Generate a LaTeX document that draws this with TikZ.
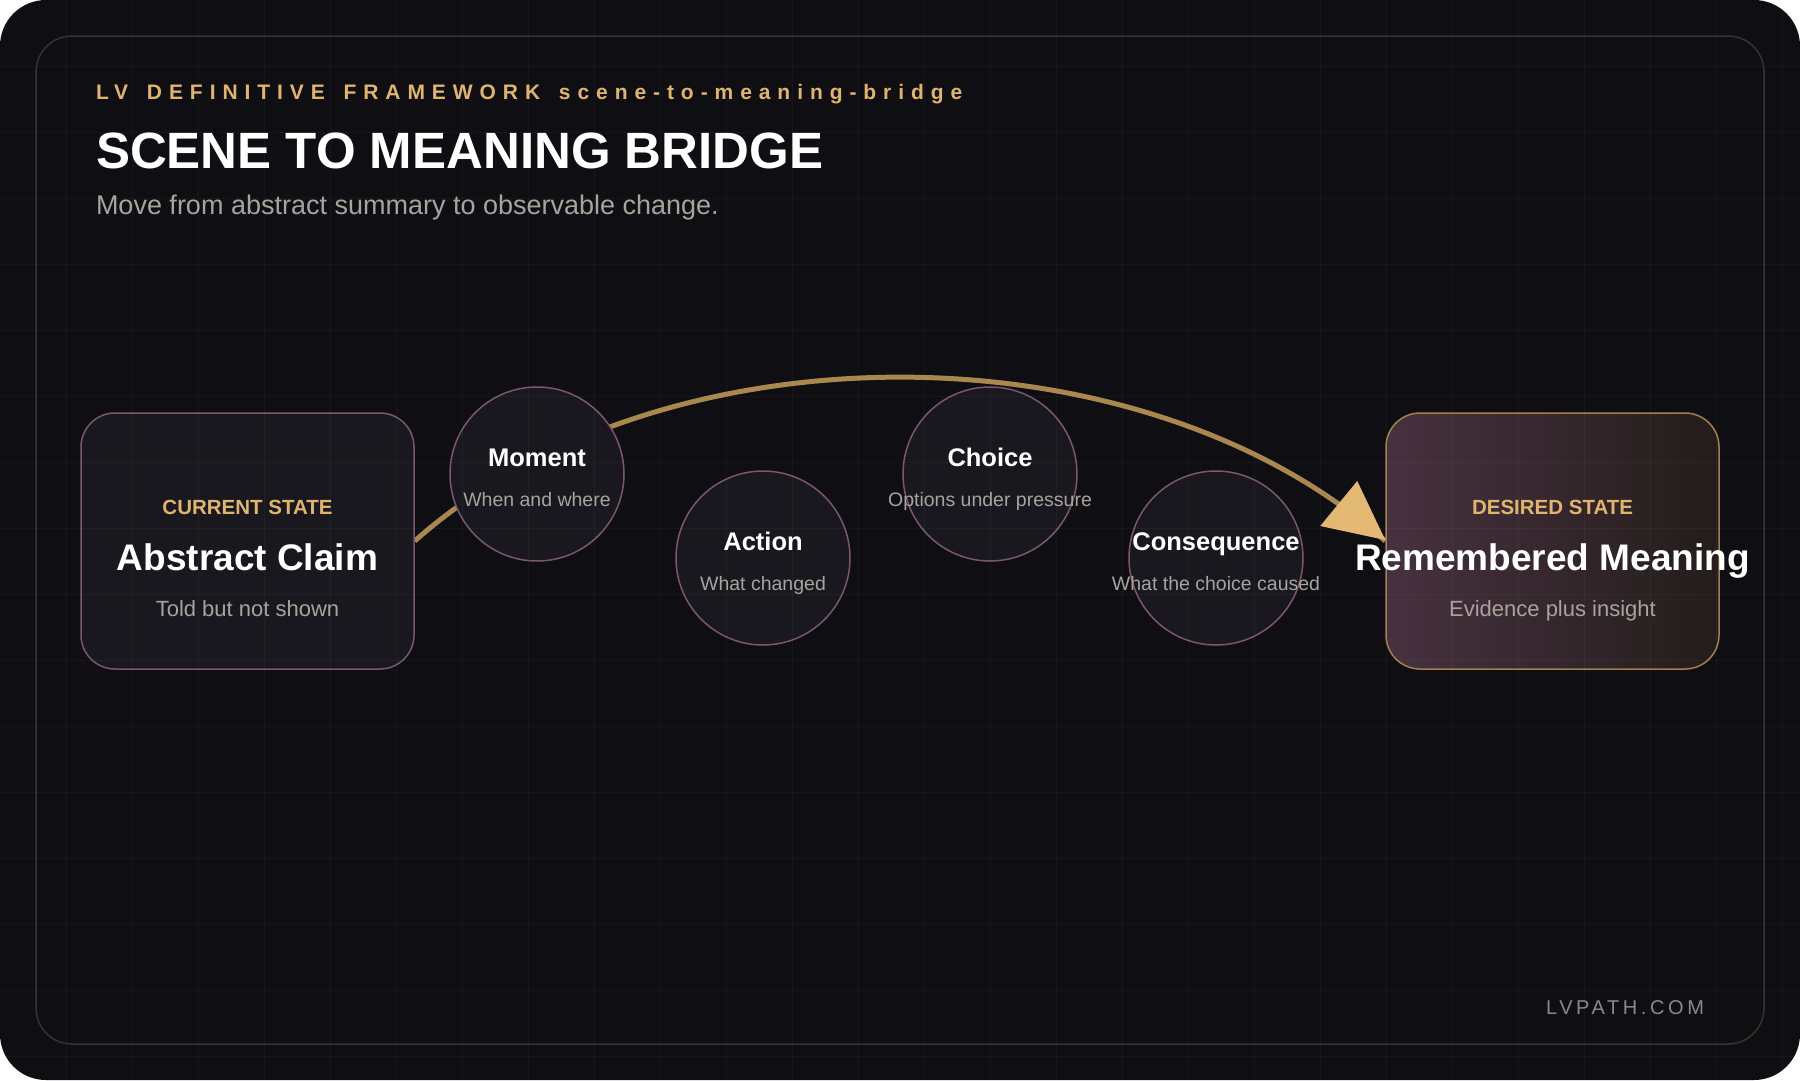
\documentclass[tikz,border=0pt]{standalone}
\usepackage{fontspec}
\setmainfont{Liberation Sans}
\usetikzlibrary{calc}
\definecolor{bgc}{HTML}{0F0F13}
\definecolor{framec}{HTML}{3A3229}
\definecolor{cardc}{HTML}{19181E}
\definecolor{mauvec}{HTML}{7A5670}
\definecolor{goldtext}{HTML}{E0B46E}
\definecolor{goldstroke}{HTML}{A27F4F}
\definecolor{bridgec}{HTML}{A9874F}
\definecolor{arrowc}{HTML}{E3B873}
\definecolor{grayt}{HTML}{A8A39D}
\definecolor{footc}{HTML}{8C8883}
\definecolor{rbleft}{HTML}{47313F}
\definecolor{rbright}{HTML}{231D1B}
\pgfdeclarelayer{bglayer}
\pgfdeclarelayer{midlayer}
\pgfdeclarelayer{toplayer}
\pgfsetlayers{bglayer,midlayer,main,toplayer}
\tikzset{
  txt/.style={inner sep=0pt, outer sep=0pt, anchor=base},
  cardbox/.style={rectangle, rounded corners=34pt, minimum width=333pt, minimum height=256pt, line width=1.5pt, inner sep=0pt},
  stepcircle/.style={circle, minimum size=174pt, inner sep=0pt, draw=mauvec, line width=1.5pt, fill=cardc},
  ctitle/.style={txt, text=white, font=\bfseries\fontsize{25.5pt}{28pt}\selectfont},
  csub/.style={txt, text=grayt, font=\fontsize{19.5pt}{22pt}\selectfont},
  klabel/.style={txt, text=goldtext, font=\bfseries\fontsize{20.5pt}{23pt}\selectfont},
  kmain/.style={txt, text=white, font=\bfseries\fontsize{37pt}{40pt}\selectfont},
  ksub/.style={txt, text=grayt, font=\fontsize{22pt}{25pt}\selectfont},
}
\begin{document}
\begin{tikzpicture}[x=1pt,y=-1pt]
\useasboundingbox (0,0) rectangle (1800,1080);
\begin{pgfonlayer}{bglayer}
\fill[white] (0,0) rectangle (1800,1080);
\fill[bgc, rounded corners=46pt] (0,0) rectangle (1800,1080);
\draw[framec, line width=1.5pt, rounded corners=36pt] (36,36) rectangle (1764,1044);
\end{pgfonlayer}

% header
\node[txt, anchor=base west, text=goldtext, font=\bfseries\fontsize{21pt}{24pt}\selectfont\addfontfeature{LetterSpace=33}] (kicker) at (96,99) {LV\hspace{6pt} DEFINITIVE\hspace{6pt} FRAMEWORK\hspace{6pt} scene-to-meaning-bridge};
\node[txt, anchor=base west, text=white, font=\bfseries\fontsize{51pt}{55pt}\selectfont] (title) at (96,168) {SCENE TO MEANING BRIDGE};
\node[txt, anchor=base west, text=grayt, font=\fontsize{27pt}{30pt}\selectfont] (subtitle) at (96,214) {Move from abstract summary to observable change.};

% state boxes
\node[cardbox, draw=mauvec, fill=cardc] (lb) at (247.5,541) {};
\node[cardbox, draw=goldstroke, left color=rbleft, right color=rbright] (rb) at (1552.5,541) {};

% bridge curve
\begin{pgfonlayer}{midlayer}
\draw[bridgec, line width=5pt] (lb.east) .. controls (660,322.5) and (1140,322.5) .. (rb.west);
\end{pgfonlayer}

% steps
\node[stepcircle] (moment) at (537,474) {};
\node[stepcircle] (action) at (763,558) {};
\node[stepcircle] (choice) at (990,474) {};
\node[stepcircle] (conseq) at (1216,558) {};

\node[ctitle] (momentT) at ($(moment.center)+(0,-7.3)$) {Moment};
\node[csub] (momentS) at ($(moment.center)+(0,32.7)$) {When and where};
\node[ctitle] (actionT) at ($(action.center)+(0,-7.3)$) {Action};
\node[csub] (actionS) at ($(action.center)+(0,32.7)$) {What changed};
\node[ctitle] (choiceT) at ($(choice.center)+(0,-7.3)$) {Choice};
\node[csub] (choiceS) at ($(choice.center)+(0,32.7)$) {Options under pressure};
\node[ctitle] (conseqT) at ($(conseq.center)+(0,-7.3)$) {Consequence};
\node[csub] (conseqS) at ($(conseq.center)+(0,32.7)$) {What the choice caused};

% arrow head
\fill[arrowc] ($(rb.west)+(0,-1)$) -- ++(-28,-59) -- ++(-37,45) -- cycle;

% box texts
\node[klabel] (lbK) at ($(lb.center)+(0,-26.5)$) {CURRENT STATE};
\node[kmain] (lbM) at ($(lb.center)+(0,29.5)$) {Abstract Claim};
\node[ksub] (lbS) at ($(lb.center)+(0,75)$) {Told but not shown};
\node[klabel] (rbK) at ($(rb.center)+(0,-26.5)$) {DESIRED STATE};
\node[kmain] (rbM) at ($(rb.center)+(0,29.5)$) {Remembered Meaning};
\node[ksub] (rbS) at ($(rb.center)+(0,75)$) {Evidence plus insight};

% footer
\node[txt, anchor=base east, text=footc, font=\fontsize{20pt}{23pt}\selectfont\addfontfeature{LetterSpace=18}] (foot) at (1704,1014) {LVPATH.COM};

% grid overlay
\begin{pgfonlayer}{toplayer}
\begin{scope}
\clip[rounded corners=46pt] (0,0) rectangle (1800,1080);
\foreach \gx in {66,132,...,1782} {\draw[white, opacity=0.035, line width=1pt] (\gx,0) -- (\gx,1080);}
\foreach \gy in {66,132,...,1056} {\draw[white, opacity=0.035, line width=1pt] (0,\gy) -- (1800,\gy);}
\end{scope}
\end{pgfonlayer}
\end{tikzpicture}
\end{document}
